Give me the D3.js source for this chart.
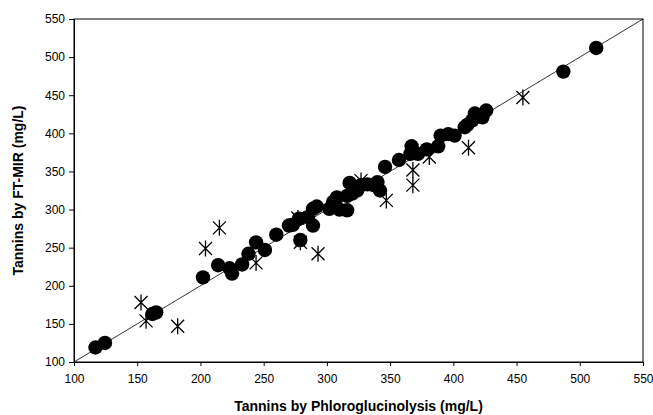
<!DOCTYPE html>
<html>
<head>
<meta charset="utf-8">
<script src="https://cdn.jsdelivr.net/npm/d3@7"></script>
<style>
  body { margin: 0; background: #fff; }
  text { font-family: "Liberation Sans", Arial, sans-serif; }
</style>
</head>
<body>
<div id="chart"></div>
<script>
// phloroglucinolysis (x) vs FT-MIR (y), mg/L
var dotX = [117, 124.5, 162, 165, 202, 214, 223, 225, 233, 238, 244, 251, 260, 270, 273, 279, 278, 285, 289, 289,
  292, 302, 305, 305, 308, 310, 316, 316, 318, 320, 324, 327, 332, 337, 340, 342, 346, 357, 367, 366,
  372, 379, 388, 390, 396, 401, 409, 411, 415, 417, 423, 426, 487, 513];
var dotY = [119, 125, 163, 165, 211, 227, 223, 216, 228, 242, 257, 247, 267, 279, 280, 260, 288, 290, 279, 301,
  304, 301, 310, 305, 316, 300, 299, 318, 335, 321, 325, 332, 333, 332, 336, 325, 356, 365, 383, 373,
  373, 379, 383, 397, 399, 397, 408, 411, 417, 426, 421, 430, 481, 512];
var crossX = [153, 157, 182, 204, 215, 244, 277, 279, 293, 327, 347, 368, 368, 381, 412, 455];
var crossY = [178, 154, 147, 249, 276, 230, 289, 257, 242, 338, 312, 352, 332, 369, 381, 447];
var ticks = [100, 150, 200, 250, 300, 350, 400, 450, 500, 550];

var W = 653, H = 415;
var margin = { top: 19, right: 10, bottom: 53, left: 74 };
var width = 643 - margin.left;
var height = 362 - margin.top;

var svg = d3.select("#chart").append("svg")
  .attr("width", W)
  .attr("height", H);

var g = svg.append("g")
  .attr("transform", "translate(" + margin.left + "," + margin.top + ")");

var x = d3.scaleLinear().domain([100, 550]).range([0, width]);
var y = d3.scaleLinear().domain([100, 550]).range([height, 0]);

// frame
g.append("rect")
  .attr("width", width).attr("height", height)
  .attr("fill", "none").attr("stroke", "#000").attr("stroke-width", 1);

// 1:1 line
g.append("line")
  .attr("x1", x(100)).attr("y1", y(100))
  .attr("x2", x(550)).attr("y2", y(550))
  .attr("stroke", "#000").attr("stroke-width", 0.8);

var xAxis = g.append("g")
  .attr("transform", "translate(0," + height + ")")
  .call(d3.axisBottom(x).tickValues(ticks).tickSize(4).tickPadding(8));
var yAxis = g.append("g")
  .call(d3.axisLeft(y).tickValues(ticks).tickSize(5).tickPadding(4));

[xAxis, yAxis].forEach(function(a) {
  a.select(".domain").attr("stroke", "#000");
  a.selectAll("line").attr("stroke", "#000");
  a.selectAll("text").attr("font-size", 12).attr("fill", "#000")
    .attr("font-family", "'Liberation Sans', Arial, sans-serif");
});

// dots
g.selectAll("circle.dot")
  .data(dotX.map(function(d, i) { return [d, dotY[i]]; }))
  .enter().append("circle")
  .attr("class", "dot")
  .attr("cx", function(d) { return x(d[0]); })
  .attr("cy", function(d) { return y(d[1]); })
  .attr("r", 7.2)
  .attr("fill", "#000");

// asterisk markers (X plus vertical bar)
var s = 8, d45 = 6.5;
var star = "M" + (-d45) + "," + (-d45) + "L" + d45 + "," + d45 +
  "M" + (-d45) + "," + d45 + "L" + d45 + "," + (-d45) +
  "M0," + (-s) + "L0," + s;
g.selectAll("path.cross")
  .data(crossX.map(function(d, i) { return [d, crossY[i]]; }))
  .enter().append("path")
  .attr("class", "cross")
  .attr("transform", function(d) { return "translate(" + x(d[0]) + "," + y(d[1]) + ")"; })
  .attr("d", star)
  .attr("fill", "none")
  .attr("stroke", "#000")
  .attr("stroke-width", 1.3);

// axis titles
svg.append("text")
  .attr("x", margin.left + width / 2)
  .attr("y", 411)
  .attr("text-anchor", "middle")
  .attr("font-size", 14)
  .attr("font-weight", "bold")
  .text("Tannins by Phloroglucinolysis (mg/L)");

svg.append("text")
  .attr("transform", "translate(23," + (margin.top + height / 2) + ") rotate(-90)")
  .attr("text-anchor", "middle")
  .attr("font-size", 14)
  .attr("font-weight", "bold")
  .text("Tannins by FT-MIR (mg/L)");
</script>
</body>
</html>
